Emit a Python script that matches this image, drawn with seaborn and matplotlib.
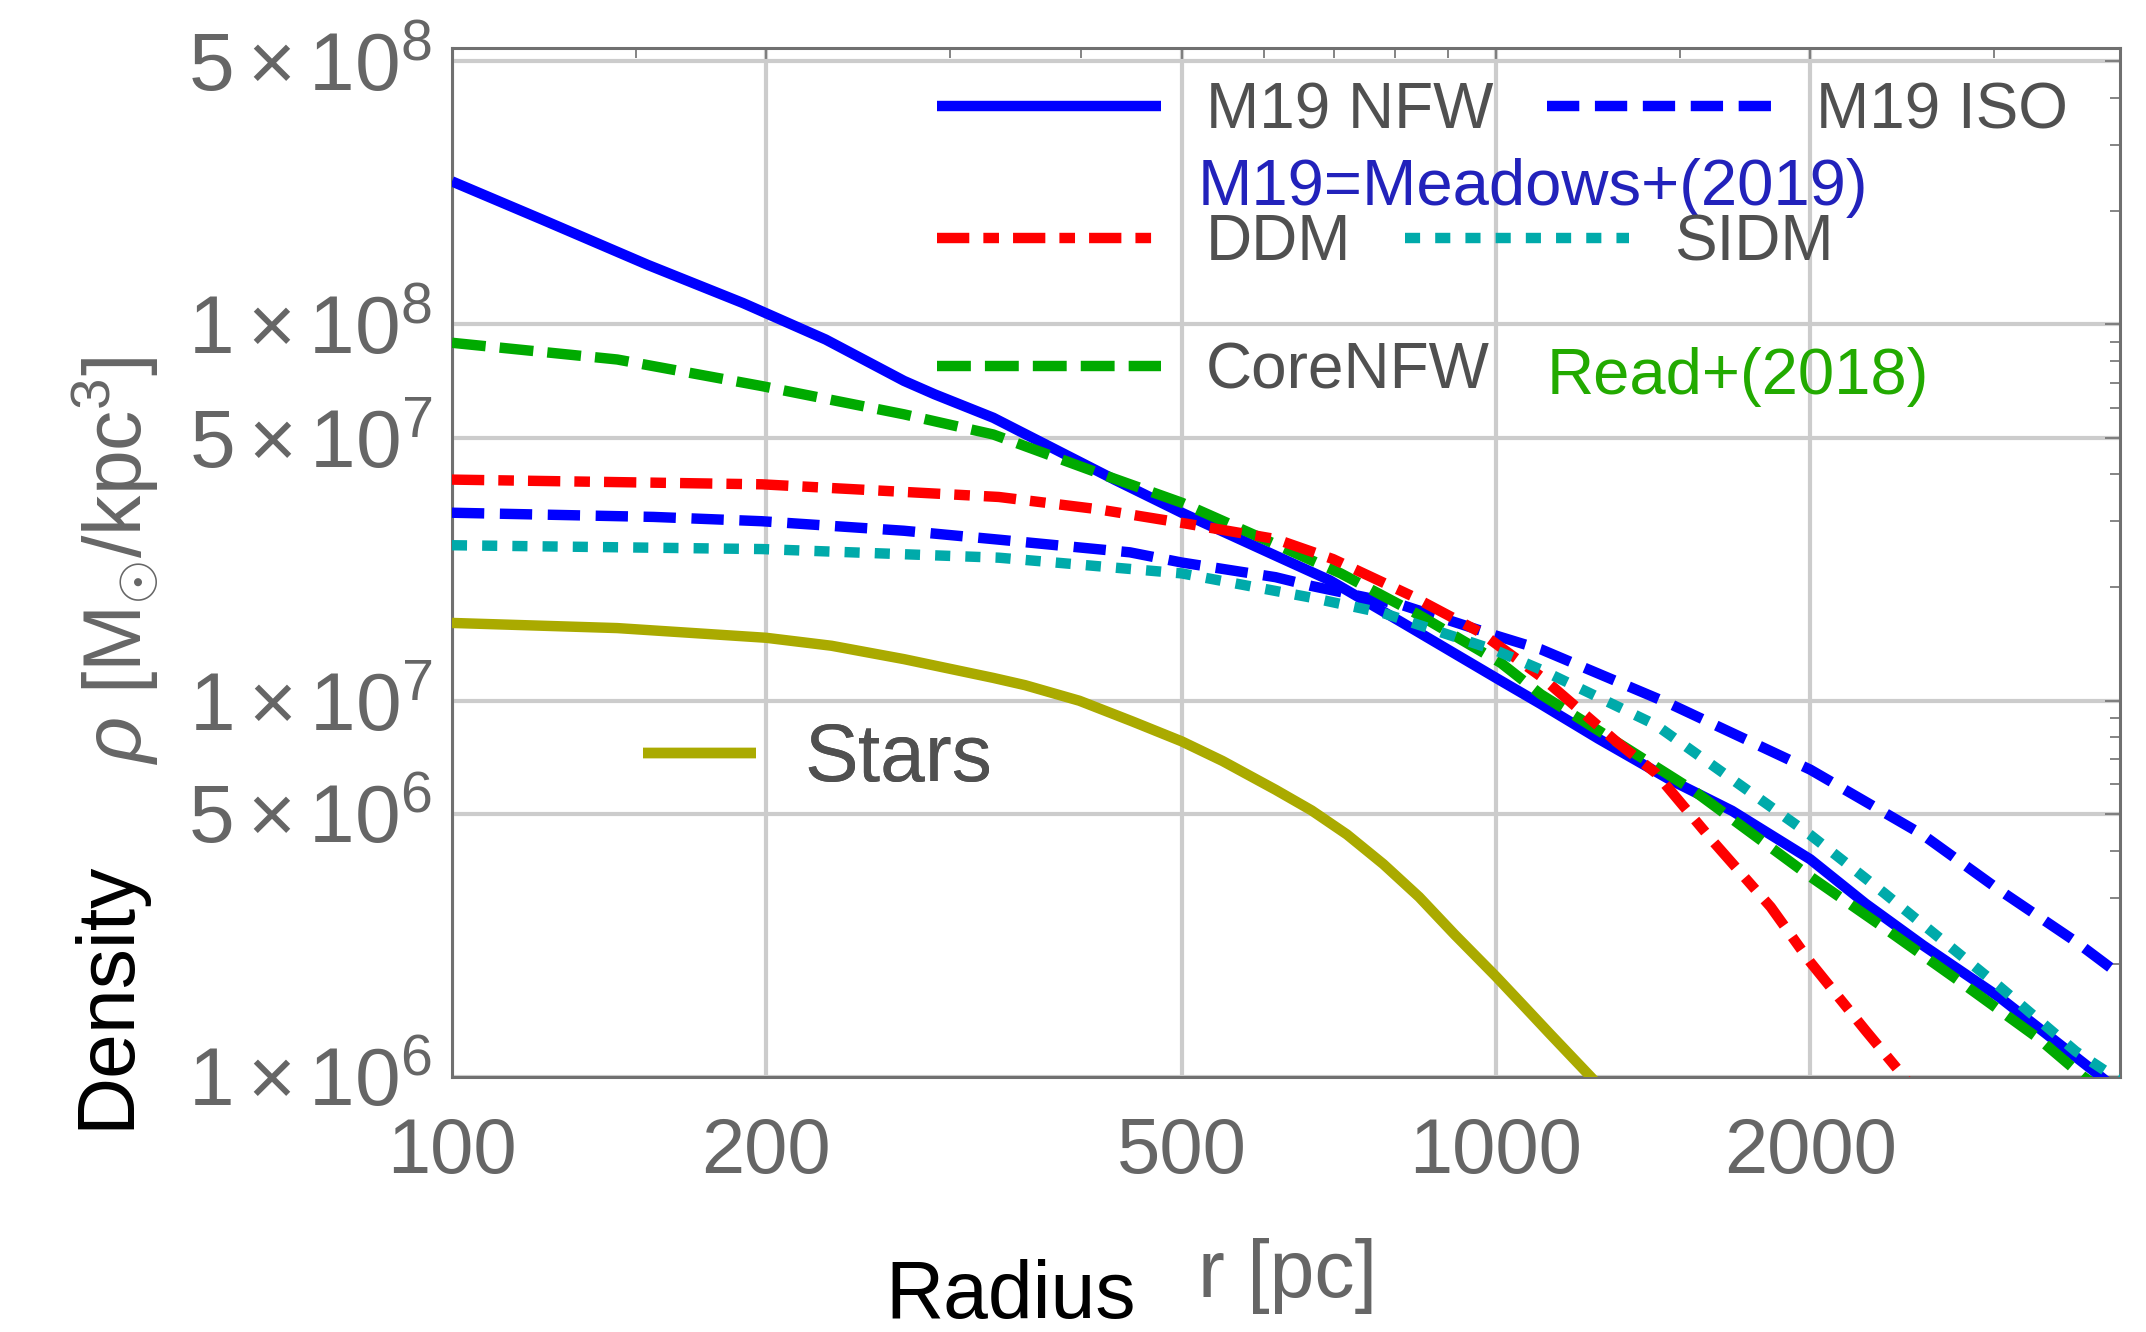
import matplotlib
matplotlib.use("Agg")
import matplotlib.pyplot as plt
from matplotlib.ticker import FixedLocator, FixedFormatter, NullFormatter
import pandas as pd
import seaborn as sns

# Density profiles: radius [pc] and density [M_sun / kpc^3]
r_nfw = [100, 122, 154, 190, 228, 271, 290, 330, 431, 500, 615, 693, 811, 1000,
         1104, 1253, 1469, 1683, 2000, 2259, 2564, 3035, 3750, 3980]
rho_nfw = [2.40e8, 1.90e8, 1.44e8, 1.14e8, 9.12e7, 7.08e7, 6.52e7, 5.65e7, 3.87e7,
           3.16e7, 2.43e7, 2.09e7, 1.62e7, 1.15e7, 9.8e6, 7.93e6, 6.16e6, 5.10e6,
           3.79e6, 2.89e6, 2.24e6, 1.63e6, 1.03e6, 0.90e6]

r_iso = [100, 156, 198, 271, 334, 446, 500, 615, 665, 811, 1000, 1104, 1469, 2000,
         2564, 3035, 3592, 3980]
rho_iso = [3.16e7, 3.08e7, 3.00e7, 2.83e7, 2.68e7, 2.48e7, 2.33e7, 2.13e7, 2.02e7,
           1.80e7, 1.49e7, 1.37e7, 9.8e6, 6.56e6, 4.40e6, 3.14e6, 2.29e6, 1.85e6]

r_ddm = [100, 198, 334, 415, 500, 615, 698, 830, 966, 1104, 1306, 1422, 1615, 1833,
         2000, 2259, 2460, 2600]
rho_ddm = [3.87e7, 3.76e7, 3.48e7, 3.23e7, 2.97e7, 2.69e7, 2.38e7, 1.90e7, 1.52e7,
           1.16e7, 7.76e6, 6.43e6, 4.22e6, 2.83e6, 2.02e6, 1.33e6, 1.00e6, 0.80e6]

r_sidm = [100, 198, 334, 500, 665, 780, 1000, 1104, 1422, 2000, 2355, 3035, 3592, 3980]
rho_sidm = [2.59e7, 2.53e7, 2.40e7, 2.18e7, 1.88e7, 1.71e7, 1.36e7, 1.21e7, 8.63e6,
            4.40e6, 3.08e6, 1.74e6, 1.17e6, 0.97e6]

r_core = [100, 144, 198, 271, 330, 415, 500, 640, 710, 844, 1011, 1104, 1306, 1545,
          2000, 2355, 2793, 3304, 3656, 3980]
rho_core = [8.94e7, 8.07e7, 6.86e7, 5.77e7, 5.10e7, 4.04e7, 3.36e7, 2.48e7, 2.18e7,
            1.69e7, 1.26e7, 1.04e7, 7.76e6, 5.78e6, 3.41e6, 2.49e6, 1.78e6, 1.27e6,
            1.00e6, 0.85e6]

r_stars = [100, 144, 200, 231, 271, 330, 354, 399, 449, 500, 547, 615, 666, 720, 780,
           844, 913, 1000, 1069, 1127, 1233, 1300]
rho_stars = [1.61e7, 1.56e7, 1.47e7, 1.40e7, 1.29e7, 1.15e7, 1.10e7, 1.00e7, 8.8e6,
             7.8e6, 6.92e6, 5.80e6, 5.11e6, 4.41e6, 3.68e6, 3.01e6, 2.39e6, 1.85e6,
             1.52e6, 1.30e6, 1.00e6, 0.85e6]

x_major = [100, 200, 500, 1000, 2000]
x_major_labels = ["100", "200", "500", "1000", "2000"]
x_minor = [150, 300, 400, 600, 700, 800, 900, 1500, 3000]
y_major = [1e6, 5e6, 1e7, 5e7, 1e8, 5e8]
y_major_labels = [r"$1\times10^{6}$", r"$5\times10^{6}$", r"$1\times10^{7}$",
                  r"$5\times10^{7}$", r"$1\times10^{8}$", r"$5\times10^{8}$"]

sns.set_theme(style="white")
plt.rcParams["font.family"] = ["Liberation Sans", "DejaVu Sans"]
plt.rcParams["mathtext.fontset"] = "custom"
plt.rcParams["mathtext.rm"] = "Liberation Sans"
plt.rcParams["mathtext.it"] = "Liberation Sans:italic"
plt.rcParams["mathtext.bf"] = "Liberation Sans:bold"

GRAY = "#666666"
LW = 7.5

fig = plt.figure(figsize=(21.46, 13.32), dpi=100)
ax = fig.add_axes([0.2106, 0.1914, 0.7773, 0.7726])

series = [
    ("M19 NFW", r_nfw, rho_nfw, "#0000ff", "-"),
    ("M19 ISO", r_iso, rho_iso, "#0000ff", (0, (3.1, 1.5))),
    ("CoreNFW", r_core, rho_core, "#00aa00", (0, (3.25, 1.35))),
    ("DDM", r_ddm, rho_ddm, "#ff0000", (0, (3.1, 1.35, 1.5, 1.35))),
    ("SIDM", r_sidm, rho_sidm, "#00aaaa", (0, (1.45, 1.45))),
    ("Stars", r_stars, rho_stars, "#aaaa00", "-"),
]

handles = {}
for name, rr, dd, col, ls in series:
    df = pd.DataFrame({"r": rr, "rho": dd})
    sns.lineplot(data=df, x="r", y="rho", ax=ax, color=col, linewidth=LW,
                 legend=False, zorder=3)
    line = ax.lines[-1]
    line.set_linestyle(ls)
    line.set_dash_capstyle("butt")
    line.set_solid_capstyle("butt")
    line.set_solid_joinstyle("round")
    handles[name] = line

ax.set_xscale("log")
ax.set_yscale("log")
ax.set_xlim(100, 3960)
ax.set_ylim(1e6, 5.43e8)

ax.xaxis.set_major_locator(FixedLocator(x_major))
ax.xaxis.set_major_formatter(FixedFormatter(x_major_labels))
ax.xaxis.set_minor_locator(FixedLocator(x_minor))
ax.xaxis.set_minor_formatter(NullFormatter())

y_minor = [m * 10 ** e for e in (6, 7) for m in (2, 3, 4, 6, 7, 8, 9)] + [2e8, 3e8, 4e8]
ax.yaxis.set_major_locator(FixedLocator(y_major))
ax.yaxis.set_major_formatter(FixedFormatter(y_major_labels))
ax.yaxis.set_minor_locator(FixedLocator(y_minor))
ax.yaxis.set_minor_formatter(NullFormatter())

ax.grid(True, which="major", color="#cccccc", linewidth=3, zorder=0)
ax.set_axisbelow(True)

for sp in ax.spines.values():
    sp.set_color("#707070")
    sp.set_linewidth(2.2)

ax.tick_params(which="both", direction="in", top=True, right=True,
               color="#707070", width=1.2)
ax.tick_params(which="major", length=11)
ax.tick_params(which="minor", length=7)
ax.tick_params(axis="x", which="major", labelsize=56, labelcolor=GRAY, pad=28)
ax.tick_params(axis="y", which="major", labelsize=59, labelcolor=GRAY, pad=14)

ax.set_xlabel("")
ax.set_ylabel("")

leg_kw = dict(frameon=False, fontsize=46, labelcolor="#505050", handlelength=3.5,
              handletextpad=0.7, columnspacing=0.85, borderpad=0, borderaxespad=0,
              loc="center left")

leg1 = ax.legend([handles["M19 NFW"], handles["M19 ISO"]], ["M19 NFW", "M19 ISO"],
                 ncol=2, bbox_to_anchor=(0.291, 0.938), **leg_kw)
ax.add_artist(leg1)
leg2 = ax.legend([handles["DDM"], handles["SIDM"]], ["DDM", "SIDM"],
                 ncol=2, bbox_to_anchor=(0.291, 0.810), **leg_kw)
ax.add_artist(leg2)
leg3 = ax.legend([handles["CoreNFW"]], ["CoreNFW"],
                 bbox_to_anchor=(0.291, 0.686), **leg_kw)
ax.add_artist(leg3)
leg4 = ax.legend([handles["Stars"]], ["Stars"], frameon=False, fontsize=58,
                 labelcolor="#505050", handlelength=1.4, handletextpad=0.6,
                 borderpad=0, borderaxespad=0, loc="center left",
                 bbox_to_anchor=(0.1145, 0.308))
ax.add_artist(leg4)

ax.text(0.447, 0.864, "M19=Meadows+(2019)", transform=ax.transAxes,
        color="#2222bb", fontsize=47, ha="left", va="center")
ax.text(0.656, 0.680, "Read+(2018)", transform=ax.transAxes,
        color="#22aa00", fontsize=47, ha="left", va="center")

fig.text(0.471, 0.026, "Radius", fontsize=58, color="black", ha="center", va="center")
fig.text(0.600, 0.042, "r [pc]", fontsize=58, color=GRAY, ha="center", va="center")
fig.text(0.050, 0.253, "Density", fontsize=58, color="black", rotation=90,
         ha="center", va="center")
fig.text(0.054, 0.579, r"$\rho$ [M$_{\odot}$/kpc$^{3}$]", fontsize=58, color=GRAY,
         rotation=90, ha="center", va="center")

fig.savefig("out.png", dpi=100)
